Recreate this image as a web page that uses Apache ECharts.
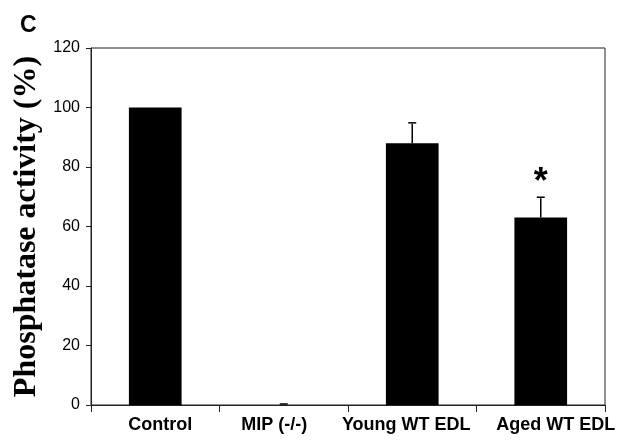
<!DOCTYPE html>
<html>
<head>
<meta charset="utf-8">
<script src="https://cdn.jsdelivr.net/npm/echarts@6/dist/echarts.min.js"></script>
<style>
  html, body { margin: 0; padding: 0; background: #fff; }
  #chart { width: 619px; height: 445px; }
</style>
</head>
<body>
<div id="chart"></div>
<script>
// values
const categories = ['Control', 'MIP (-/-)', 'Young WT EDL', 'Aged WT EDL']
const activity = [100, 0, 88, 63]
const errors = [0, 0, 6.5, 6.5]
const marks = ['', '', '', '*']
const yTicks = [0, 20, 40, 60, 80, 100, 120]

// the original labels sit a little off their category centres
const labelShift = [10, -19, -12, 30]

const chart = echarts.init(document.getElementById('chart'))

const errData = categories.map((c, i) => [i, activity[i], activity[i] + errors[i], marks[i]])

const labelData = categories.map((c, i) => ({
  value: c,
  textStyle: {
    padding: labelShift[i] >= 0 ? [0, 0, 0, labelShift[i]] : [0, -labelShift[i], 0, 0]
  }
}))

const option = {
  animation: false,
  backgroundColor: '#fff',
  graphic: [{
    type: 'text',
    left: 20,
    top: 14,
    style: { text: 'C', font: 'bold 23px "Liberation Sans", Arial, sans-serif', fill: '#000' }
  }],
  grid: {
    left: 91,
    right: 14,
    top: 48,
    bottom: 40,
    show: true,
    borderColor: '#222',
    borderWidth: 1
  },
  xAxis: {
    type: 'category',
    data: labelData,
    axisLine: { lineStyle: { color: '#222', width: 1 } },
    axisTick: { show: true, length: 7, lineStyle: { color: '#222' } },
    axisLabel: {
      interval: 0,
      margin: 11,
      color: '#000',
      fontSize: 18,
      fontWeight: 'bold',
      fontFamily: '"Liberation Sans", Arial, sans-serif'
    }
  },
  yAxis: {
    type: 'value',
    min: yTicks[0],
    max: yTicks[yTicks.length - 1],
    interval: 20,
    name: 'Phosphatase activity (%)',
    nameLocation: 'middle',
    nameGap: 47,
    nameTextStyle: {
      color: '#000',
      fontSize: 32,
      fontWeight: 'bold',
      fontFamily: '"Liberation Serif", "Times New Roman", serif'
    },
    splitLine: { show: false },
    axisLine: { show: true, lineStyle: { color: '#222', width: 1 } },
    axisTick: { show: true, length: 5, lineStyle: { color: '#222' } },
    axisLabel: {
      margin: 11,
      color: '#000',
      fontSize: 16,
      fontFamily: '"Liberation Sans", Arial, sans-serif'
    }
  },
  series: [
    {
      type: 'bar',
      data: activity,
      barWidth: '41%',
      itemStyle: { color: '#000' }
    },
    {
      type: 'custom',
      data: errData,
      z: 5,
      renderItem(params, api) {
        const i = params.dataIndex
        const top = api.coord([api.value(0), api.value(2)])
        const base = api.coord([api.value(0), api.value(1)])
        const cap = 4
        const children = []
        if (errors[i] > 0 || activity[i] === 0) {
          children.push(
            { type: 'line', shape: { x1: base[0], y1: base[1], x2: top[0], y2: top[1] }, style: { stroke: '#000', lineWidth: 1.5 } },
            { type: 'line', shape: { x1: top[0] - cap, y1: top[1] - 1, x2: top[0] + cap, y2: top[1] - 1 }, style: { stroke: '#000', lineWidth: 1.5 } }
          )
        }
        const m = marks[i]
        if (m) {
          children.push({
            type: 'text',
            style: {
              text: m,
              x: top[0],
              y: top[1] + 3,
              align: 'center',
              verticalAlign: 'bottom',
              font: 'bold 36px "Liberation Sans", Arial, sans-serif',
              fill: '#000'
            }
          })
        }
        return { type: 'group', children }
      }
    }
  ]
}

chart.setOption(option)
</script>
</body>
</html>
